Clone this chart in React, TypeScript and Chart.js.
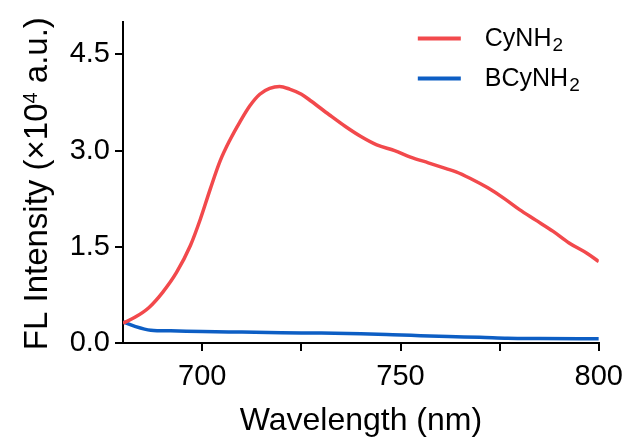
import React, { useEffect, useRef } from 'react';
import { Chart, registerables } from 'chart.js';

Chart.register(...registerables);

// ---- data ----
const cyWave = [680, 683, 686.5, 690, 693.5, 697, 699.5, 702, 704.5, 707, 709.5, 712, 714.5, 717, 719.5, 722, 725, 727.5, 732, 736, 740, 744, 748.5, 752.5, 757, 761.5, 764, 767.5, 772, 776, 780, 784, 788.5, 792.5, 797, 800];
const cyValues = [0.31, 0.40, 0.55, 0.79, 1.10, 1.52, 1.93, 2.40, 2.84, 3.17, 3.45, 3.70, 3.88, 3.97, 4.00, 3.96, 3.88, 3.77, 3.56, 3.38, 3.22, 3.09, 3.00, 2.90, 2.81, 2.72, 2.67, 2.57, 2.42, 2.26, 2.08, 1.92, 1.74, 1.56, 1.40, 1.27];
const bcyWave = [680, 683, 687, 692, 700, 710, 720, 730, 740, 748, 755, 762, 770, 777, 785, 800];
const bcyValues = [0.33, 0.26, 0.20, 0.19, 0.18, 0.17, 0.16, 0.155, 0.145, 0.13, 0.115, 0.10, 0.09, 0.075, 0.07, 0.065];

// legend names: main part + subscript
const seriesNames = ['CyNH', 'BCyNH'];
const seriesSub = ['2', '2'];
const seriesColors = ['#F2494C', '#0D5EC4'];

const xTickValues = [700, 725, 750, 775, 800];
const xLabelValues = [700, 750, 800];
const yTickValues = [0, 1.5, 3.0, 4.5];
const xTitle = 'Wavelength (nm)';
// y title: before superscript, superscript, after superscript
const yTitleParts = ['FL Intensity (\u00d710', '4', ' a.u.)'];

const FONT = '"Liberation Sans", Arial, Helvetica, sans-serif';

const lineLegend = {
  id: 'lineLegend',
  afterDraw(chart: any) {
    const { ctx, chartArea } = chart;
    ctx.save();
    chart.data.datasets.forEach((ds: any, i: number) => {
      const y = chartArea.top + 16 + i * 40;
      const x0 = chartArea.right - 181;
      ctx.strokeStyle = ds.borderColor;
      ctx.lineWidth = 4;
      ctx.beginPath();
      ctx.moveTo(x0, y);
      ctx.lineTo(x0 + 43, y);
      ctx.stroke();
      ctx.fillStyle = '#000';
      ctx.textAlign = 'left';
      ctx.textBaseline = 'alphabetic';
      ctx.font = `25px ${FONT}`;
      const tx = x0 + 67;
      const base = y + 8;
      ctx.fillText(ds.label, tx, base);
      const w = ctx.measureText(ds.label).width;
      ctx.font = `19px ${FONT}`;
      ctx.fillText(seriesSub[i], tx + w + 1, base + 5);
    });
    ctx.restore();
  },
};

const yTitlePlugin = {
  id: 'yTitleRich',
  afterDraw(chart: any) {
    const { ctx, chartArea } = chart;
    const mainFont = `33px ${FONT}`;
    const supFont = `20px ${FONT}`;
    ctx.save();
    ctx.font = mainFont;
    const w0 = ctx.measureText(yTitleParts[0]).width;
    const w2 = ctx.measureText(yTitleParts[2]).width;
    ctx.font = supFont;
    const w1 = ctx.measureText(yTitleParts[1]).width;
    const total = w0 + w1 + w2;
    const cy = (chartArea.top + chartArea.bottom) / 2 + 1;
    ctx.translate(47, cy);
    ctx.rotate(-Math.PI / 2);
    ctx.fillStyle = '#000';
    ctx.textAlign = 'left';
    ctx.textBaseline = 'alphabetic';
    let x = -total / 2;
    ctx.font = mainFont;
    ctx.fillText(yTitleParts[0], x, 0);
    x += w0;
    ctx.font = supFont;
    ctx.fillText(yTitleParts[1], x, -10);
    x += w1;
    ctx.font = mainFont;
    ctx.fillText(yTitleParts[2], x, 0);
    ctx.restore();
  },
};

export default function App() {
  const ref = useRef<HTMLCanvasElement | null>(null);

  useEffect(() => {
    if (!ref.current) return;
    const chart = new Chart(ref.current, {
      type: 'line',
      data: {
        datasets: [
          {
            label: seriesNames[0],
            data: cyWave.map((x, i) => ({ x, y: cyValues[i] })),
            borderColor: seriesColors[0],
            backgroundColor: seriesColors[0],
            borderWidth: 3.5,
            pointRadius: 0,
            cubicInterpolationMode: 'monotone',
          },
          {
            label: seriesNames[1],
            data: bcyWave.map((x, i) => ({ x, y: bcyValues[i] })),
            borderColor: seriesColors[1],
            backgroundColor: seriesColors[1],
            borderWidth: 3.5,
            pointRadius: 0,
            cubicInterpolationMode: 'monotone',
          },
        ],
      },
      options: {
        responsive: false,
        animation: false,
        layout: { padding: { left: 0, top: 22, right: 29, bottom: 0 } },
        plugins: { legend: { display: false }, tooltip: { enabled: false } },
        scales: {
          x: {
            type: 'linear',
            min: 680,
            max: 800,
            afterBuildTicks: (s: any) => {
              s.ticks = xTickValues.map((v) => ({ value: v }));
            },
            afterFit: (s: any) => {
              s.height = 98;
            },
            ticks: {
              autoSkip: false,
              maxRotation: 0,
              color: '#000',
              padding: 9,
              font: { family: FONT, size: 29 },
              callback: (v: any) => (xLabelValues.includes(Number(v)) ? String(v) : ''),
            },
            grid: { drawOnChartArea: false, drawTicks: true, tickLength: 8, lineWidth: 2, color: '#000' },
            border: { display: true, color: '#000', width: 2 },
            title: {
              display: true,
              text: xTitle,
              color: '#000',
              font: { family: FONT, size: 32 },
              padding: { top: 0, bottom: 1 },
            },
          },
          y: {
            type: 'linear',
            min: 0,
            max: 5,
            afterBuildTicks: (s: any) => {
              s.ticks = yTickValues.map((v) => ({ value: v }));
            },
            afterFit: (s: any) => {
              s.width = 123;
            },
            ticks: {
              color: '#000',
              padding: 5,
              font: { family: FONT, size: 29 },
              callback: (v: any) => Number(v).toFixed(1),
            },
            grid: { drawOnChartArea: false, drawTicks: true, tickLength: 8, lineWidth: 2, color: '#000' },
            border: { display: true, color: '#000', width: 2 },
            title: { display: false },
          },
        },
      },
      plugins: [lineLegend, yTitlePlugin],
    } as any);
    return () => chart.destroy();
  }, []);

  return (
    <div style={{ position: 'absolute', left: 0, top: 0, width: 632, height: 441, background: '#fff' }}>
      <canvas ref={ref} width={632} height={441} style={{ display: 'block', width: 632, height: 441 }} />
    </div>
  );
}
